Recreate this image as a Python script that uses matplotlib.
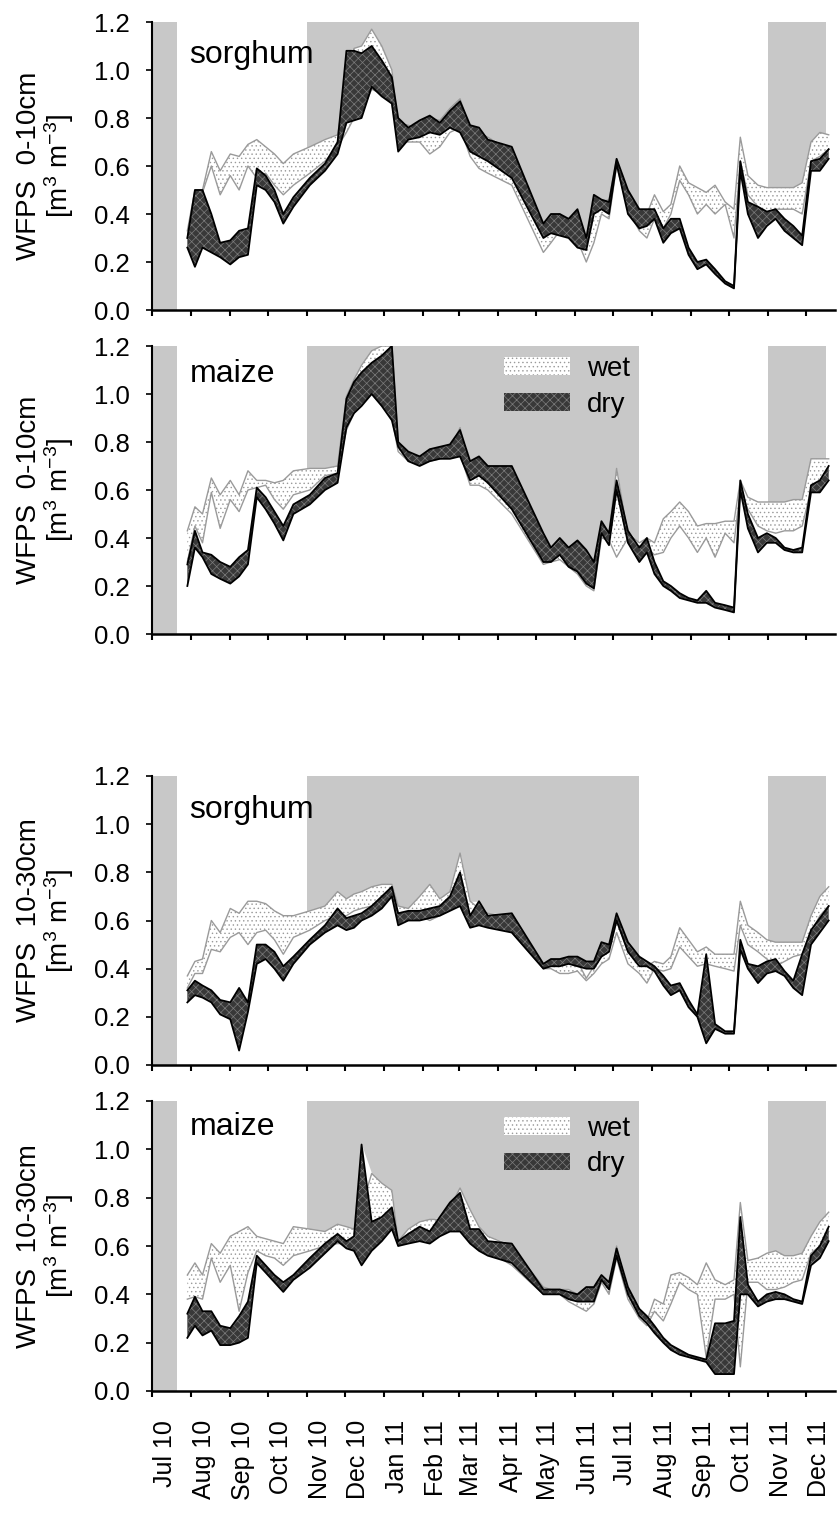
import matplotlib
matplotlib.use('Agg')
import matplotlib.pyplot as plt
import matplotlib.dates as mdates
from matplotlib.patches import Patch
import numpy as np
import pandas as pd

plt.rcParams['font.family'] = ['Liberation Sans', 'DejaVu Sans']
plt.rcParams['mathtext.fontset'] = 'custom'
plt.rcParams['mathtext.rm'] = 'Liberation Sans'
plt.rcParams['mathtext.it'] = 'Liberation Sans:italic'
plt.rcParams['hatch.linewidth'] = 0.5

# =============================================================================
# Data: WFPS [m3 m-3], range of the wet and dry treatments
# =============================================================================

dates = pd.to_datetime([
    '2010-07-29', '2010-08-04', '2010-08-10', '2010-08-17', '2010-08-24',
    '2010-09-01', '2010-09-08', '2010-09-15', '2010-09-22', '2010-09-29',
    '2010-10-06', '2010-10-13', '2010-10-21', '2010-11-03', '2010-11-15',
    '2010-11-25', '2010-12-02', '2010-12-08', '2010-12-14', '2010-12-22',
    '2010-12-30', '2011-01-07', '2011-01-12', '2011-01-20', '2011-01-29',
    '2011-02-06', '2011-02-14', '2011-02-22', '2011-03-02', '2011-03-10',
    '2011-03-17', '2011-03-24', '2011-04-12', '2011-05-07', '2011-05-13',
    '2011-05-20', '2011-05-27', '2011-06-03', '2011-06-10', '2011-06-16',
    '2011-06-22', '2011-06-28', '2011-07-04', '2011-07-13', '2011-07-22',
    '2011-07-28', '2011-08-03', '2011-08-10', '2011-08-16', '2011-08-23',
    '2011-08-30', '2011-09-06', '2011-09-13', '2011-09-20', '2011-09-28',
    '2011-10-05', '2011-10-10', '2011-10-16', '2011-10-24', '2011-10-31',
    '2011-11-07', '2011-11-14', '2011-11-21', '2011-11-28', '2011-12-05',
    '2011-12-12', '2011-12-19'])

# sorghum 0-10 cm
sorg_010_wet_hi = [0.33, 0.50, 0.50, 0.66, 0.58, 0.65, 0.64, 0.69, 0.71, 0.68,
                   0.65, 0.61, 0.65, 0.68, 0.71, 0.73, 0.95, 1.09, 1.10, 1.17,
                   1.10, 1.00, 0.78, 0.77, 0.74, 0.80, 0.79, 0.84, 0.88, 0.76,
                   0.74, 0.72, 0.66, 0.34, 0.38, 0.40, 0.36, 0.35, 0.27, 0.46,
                   0.45, 0.46, 0.63, 0.48, 0.41, 0.40, 0.48, 0.41, 0.44, 0.60,
                   0.53, 0.51, 0.49, 0.52, 0.45, 0.42, 0.72, 0.56, 0.52, 0.51,
                   0.51, 0.51, 0.51, 0.53, 0.70, 0.74, 0.73]
sorg_010_wet_lo = [0.30, 0.48, 0.49, 0.60, 0.48, 0.56, 0.50, 0.60, 0.55, 0.57,
                   0.52, 0.48, 0.52, 0.57, 0.62, 0.68, 0.74, 0.80, 0.82, 0.92,
                   0.90, 0.86, 0.70, 0.70, 0.70, 0.65, 0.68, 0.74, 0.76, 0.64,
                   0.59, 0.57, 0.52, 0.24, 0.28, 0.33, 0.31, 0.29, 0.20, 0.28,
                   0.40, 0.38, 0.60, 0.42, 0.33, 0.30, 0.38, 0.34, 0.40, 0.54,
                   0.48, 0.40, 0.44, 0.40, 0.44, 0.30, 0.62, 0.48, 0.43, 0.40,
                   0.42, 0.42, 0.42, 0.40, 0.62, 0.64, 0.67]
sorg_010_dry_hi = [0.30, 0.50, 0.50, 0.40, 0.28, 0.29, 0.33, 0.34, 0.59, 0.56,
                   0.50, 0.40, 0.47, 0.55, 0.61, 0.70, 1.08, 1.08, 1.07, 1.10,
                   1.04, 0.97, 0.80, 0.76, 0.79, 0.81, 0.78, 0.83, 0.87, 0.77,
                   0.76, 0.71, 0.68, 0.36, 0.40, 0.40, 0.38, 0.42, 0.30, 0.48,
                   0.46, 0.45, 0.63, 0.50, 0.42, 0.42, 0.42, 0.34, 0.38, 0.38,
                   0.26, 0.20, 0.21, 0.17, 0.12, 0.10, 0.62, 0.45, 0.43, 0.41,
                   0.42, 0.38, 0.35, 0.31, 0.62, 0.63, 0.67]
sorg_010_dry_lo = [0.26, 0.18, 0.26, 0.24, 0.22, 0.19, 0.22, 0.23, 0.52, 0.50,
                   0.45, 0.36, 0.43, 0.52, 0.58, 0.65, 0.78, 0.79, 0.80, 0.93,
                   0.89, 0.86, 0.66, 0.71, 0.72, 0.74, 0.73, 0.76, 0.74, 0.66,
                   0.64, 0.62, 0.55, 0.30, 0.32, 0.31, 0.30, 0.26, 0.25, 0.40,
                   0.42, 0.40, 0.61, 0.40, 0.34, 0.35, 0.38, 0.28, 0.32, 0.34,
                   0.23, 0.17, 0.19, 0.15, 0.11, 0.09, 0.58, 0.40, 0.30, 0.35,
                   0.38, 0.33, 0.30, 0.27, 0.58, 0.58, 0.63]

# maize 0-10 cm
maize_010_wet_hi = [0.43, 0.53, 0.50, 0.65, 0.58, 0.64, 0.58, 0.68, 0.64, 0.64,
                    0.63, 0.64, 0.68, 0.69, 0.69, 0.70, 0.99, 1.06, 1.12, 1.18,
                    1.20, 1.20, 0.80, 0.75, 0.73, 0.75, 0.76, 0.77, 0.86, 0.70,
                    0.70, 0.68, 0.62, 0.36, 0.34, 0.36, 0.34, 0.35, 0.30, 0.28,
                    0.45, 0.42, 0.69, 0.42, 0.38, 0.40, 0.38, 0.48, 0.51, 0.55,
                    0.51, 0.45, 0.46, 0.46, 0.47, 0.47, 0.64, 0.57, 0.55, 0.55,
                    0.55, 0.55, 0.56, 0.56, 0.73, 0.73, 0.73]
maize_010_wet_lo = [0.30, 0.45, 0.38, 0.59, 0.44, 0.56, 0.51, 0.60, 0.61, 0.62,
                    0.56, 0.52, 0.58, 0.60, 0.66, 0.67, 0.85, 0.92, 0.96, 1.00,
                    0.95, 0.90, 0.76, 0.72, 0.71, 0.72, 0.73, 0.74, 0.75, 0.62,
                    0.62, 0.60, 0.50, 0.29, 0.30, 0.31, 0.28, 0.25, 0.20, 0.18,
                    0.40, 0.39, 0.32, 0.40, 0.30, 0.36, 0.33, 0.34, 0.40, 0.45,
                    0.40, 0.34, 0.40, 0.32, 0.42, 0.38, 0.60, 0.52, 0.45, 0.43,
                    0.42, 0.43, 0.43, 0.45, 0.60, 0.62, 0.68]
maize_010_dry_hi = [0.29, 0.43, 0.34, 0.33, 0.30, 0.28, 0.32, 0.35, 0.61, 0.57,
                    0.51, 0.45, 0.54, 0.58, 0.65, 0.67, 0.98, 1.05, 1.09, 1.13,
                    1.16, 1.20, 0.80, 0.76, 0.74, 0.77, 0.78, 0.79, 0.85, 0.72,
                    0.74, 0.70, 0.70, 0.42, 0.36, 0.40, 0.36, 0.39, 0.35, 0.30,
                    0.47, 0.42, 0.64, 0.43, 0.36, 0.40, 0.30, 0.22, 0.20, 0.17,
                    0.15, 0.14, 0.18, 0.13, 0.12, 0.11, 0.64, 0.50, 0.40, 0.42,
                    0.40, 0.36, 0.35, 0.36, 0.62, 0.64, 0.70]
maize_010_dry_lo = [0.20, 0.36, 0.32, 0.25, 0.23, 0.21, 0.24, 0.29, 0.57, 0.52,
                    0.46, 0.39, 0.50, 0.54, 0.60, 0.63, 0.86, 0.92, 0.95, 1.00,
                    0.95, 0.89, 0.78, 0.72, 0.70, 0.72, 0.73, 0.73, 0.74, 0.64,
                    0.66, 0.63, 0.52, 0.30, 0.30, 0.33, 0.28, 0.26, 0.21, 0.19,
                    0.42, 0.37, 0.60, 0.38, 0.30, 0.34, 0.25, 0.20, 0.18, 0.15,
                    0.14, 0.13, 0.13, 0.11, 0.10, 0.09, 0.60, 0.44, 0.34, 0.38,
                    0.38, 0.35, 0.34, 0.34, 0.59, 0.59, 0.64]

# sorghum 10-30 cm
sorg_1030_wet_hi = [0.37, 0.43, 0.44, 0.60, 0.55, 0.65, 0.63, 0.68, 0.68, 0.67,
                    0.64, 0.62, 0.62, 0.64, 0.66, 0.72, 0.69, 0.71, 0.72, 0.74,
                    0.75, 0.75, 0.66, 0.65, 0.70, 0.75, 0.69, 0.72, 0.88, 0.68,
                    0.65, 0.63, 0.61, 0.41, 0.43, 0.42, 0.42, 0.43, 0.36, 0.41,
                    0.45, 0.48, 0.60, 0.47, 0.43, 0.41, 0.43, 0.42, 0.45, 0.57,
                    0.52, 0.47, 0.49, 0.46, 0.46, 0.46, 0.68, 0.58, 0.55, 0.52,
                    0.51, 0.51, 0.51, 0.51, 0.62, 0.70, 0.74]
sorg_1030_wet_lo = [0.32, 0.38, 0.38, 0.48, 0.47, 0.53, 0.55, 0.50, 0.55, 0.56,
                    0.52, 0.46, 0.53, 0.56, 0.60, 0.62, 0.62, 0.64, 0.65, 0.66,
                    0.68, 0.72, 0.62, 0.60, 0.62, 0.60, 0.62, 0.66, 0.66, 0.60,
                    0.61, 0.60, 0.55, 0.40, 0.40, 0.38, 0.38, 0.39, 0.35, 0.38,
                    0.42, 0.44, 0.55, 0.42, 0.38, 0.34, 0.40, 0.39, 0.40, 0.49,
                    0.45, 0.41, 0.42, 0.41, 0.40, 0.39, 0.58, 0.50, 0.47, 0.44,
                    0.41, 0.43, 0.45, 0.46, 0.55, 0.62, 0.66]
sorg_1030_dry_hi = [0.31, 0.35, 0.33, 0.31, 0.27, 0.26, 0.32, 0.26, 0.50, 0.50,
                    0.47, 0.41, 0.45, 0.52, 0.58, 0.65, 0.61, 0.62, 0.63, 0.66,
                    0.70, 0.74, 0.63, 0.64, 0.64, 0.65, 0.66, 0.70, 0.80, 0.62,
                    0.68, 0.62, 0.63, 0.42, 0.44, 0.44, 0.45, 0.45, 0.43, 0.43,
                    0.51, 0.50, 0.63, 0.51, 0.45, 0.43, 0.41, 0.37, 0.33, 0.34,
                    0.27, 0.21, 0.46, 0.17, 0.14, 0.14, 0.52, 0.42, 0.41, 0.43,
                    0.44, 0.39, 0.35, 0.46, 0.56, 0.61, 0.66]
sorg_1030_dry_lo = [0.26, 0.29, 0.28, 0.26, 0.21, 0.19, 0.06, 0.22, 0.42, 0.44,
                    0.40, 0.35, 0.42, 0.50, 0.55, 0.58, 0.56, 0.57, 0.60, 0.62,
                    0.65, 0.70, 0.58, 0.60, 0.60, 0.61, 0.62, 0.64, 0.66, 0.57,
                    0.58, 0.57, 0.55, 0.40, 0.41, 0.41, 0.42, 0.41, 0.40, 0.40,
                    0.45, 0.47, 0.60, 0.47, 0.41, 0.41, 0.39, 0.33, 0.29, 0.31,
                    0.24, 0.20, 0.09, 0.15, 0.13, 0.13, 0.48, 0.40, 0.34, 0.38,
                    0.39, 0.37, 0.32, 0.29, 0.50, 0.55, 0.60]

# maize 10-30 cm
maize_1030_wet_hi = [0.48, 0.53, 0.48, 0.61, 0.57, 0.64, 0.66, 0.68, 0.64, 0.63,
                     0.62, 0.61, 0.68, 0.67, 0.66, 0.69, 0.68, 0.67, 0.76, 0.90,
                     0.86, 0.83, 0.62, 0.67, 0.70, 0.71, 0.71, 0.76, 0.84, 0.75,
                     0.68, 0.64, 0.60, 0.43, 0.42, 0.42, 0.42, 0.40, 0.43, 0.42,
                     0.47, 0.43, 0.60, 0.41, 0.33, 0.29, 0.38, 0.36, 0.48, 0.49,
                     0.47, 0.44, 0.53, 0.46, 0.44, 0.46, 0.78, 0.54, 0.55, 0.57,
                     0.58, 0.56, 0.56, 0.57, 0.64, 0.70, 0.74]
maize_1030_wet_lo = [0.38, 0.39, 0.38, 0.55, 0.45, 0.52, 0.33, 0.49, 0.58, 0.56,
                     0.55, 0.52, 0.56, 0.58, 0.60, 0.61, 0.61, 0.60, 0.62, 0.62,
                     0.65, 0.70, 0.60, 0.62, 0.63, 0.63, 0.66, 0.68, 0.67, 0.63,
                     0.60, 0.58, 0.52, 0.40, 0.40, 0.40, 0.37, 0.35, 0.33, 0.36,
                     0.45, 0.40, 0.55, 0.38, 0.30, 0.27, 0.33, 0.29, 0.36, 0.45,
                     0.42, 0.40, 0.14, 0.38, 0.38, 0.40, 0.10, 0.45, 0.45, 0.42,
                     0.42, 0.43, 0.45, 0.46, 0.57, 0.60, 0.66]
maize_1030_dry_hi = [0.32, 0.39, 0.33, 0.33, 0.27, 0.26, 0.31, 0.37, 0.56, 0.52,
                     0.48, 0.45, 0.48, 0.55, 0.61, 0.65, 0.62, 0.64, 1.02, 0.70,
                     0.72, 0.76, 0.62, 0.65, 0.68, 0.66, 0.72, 0.78, 0.82, 0.67,
                     0.67, 0.62, 0.61, 0.42, 0.42, 0.42, 0.41, 0.40, 0.43, 0.43,
                     0.48, 0.45, 0.59, 0.43, 0.34, 0.31, 0.27, 0.22, 0.19, 0.17,
                     0.15, 0.14, 0.13, 0.28, 0.28, 0.29, 0.72, 0.44, 0.37, 0.40,
                     0.41, 0.40, 0.38, 0.37, 0.56, 0.60, 0.68]
maize_1030_dry_lo = [0.22, 0.27, 0.23, 0.25, 0.19, 0.19, 0.20, 0.22, 0.53, 0.49,
                     0.45, 0.41, 0.46, 0.51, 0.57, 0.62, 0.59, 0.58, 0.52, 0.58,
                     0.62, 0.67, 0.60, 0.61, 0.62, 0.61, 0.64, 0.66, 0.66, 0.61,
                     0.58, 0.56, 0.53, 0.40, 0.40, 0.40, 0.38, 0.37, 0.37, 0.37,
                     0.46, 0.42, 0.56, 0.40, 0.31, 0.28, 0.24, 0.20, 0.17, 0.15,
                     0.14, 0.13, 0.12, 0.07, 0.07, 0.07, 0.40, 0.40, 0.35, 0.37,
                     0.38, 0.38, 0.37, 0.36, 0.52, 0.55, 0.62]

# periods shaded grey
band_starts = ['2010-07-01', '2010-11-01', '2011-11-01']
band_ends = ['2010-07-21', '2011-07-22', '2011-12-17']

crops = ['sorghum', 'maize', 'sorghum', 'maize']
depths = ['0-10cm', '0-10cm', '10-30cm', '10-30cm']

# =============================================================================
# Plot
# =============================================================================

plt.close('all')

W, H = 838, 1515
fig = plt.figure(figsize=(W / 100, H / 100), dpi=100)

# top / bottom of each panel in pixels
panel_px = [(22, 310), (346, 634), (776, 1065), (1101, 1391)]
left_px, right_px = 152, 835

series = [
    (sorg_010_wet_hi, sorg_010_wet_lo, sorg_010_dry_hi, sorg_010_dry_lo),
    (maize_010_wet_hi, maize_010_wet_lo, maize_010_dry_hi, maize_010_dry_lo),
    (sorg_1030_wet_hi, sorg_1030_wet_lo, sorg_1030_dry_hi, sorg_1030_dry_lo),
    (maize_1030_wet_hi, maize_1030_wet_lo, maize_1030_dry_hi, maize_1030_dry_lo),
]
label_y = [0.857, 0.876, 0.856, 0.884]
legend_y = [None, 0.965, None, 0.950]

wet_face = dict(facecolor='white', hatch='....', edgecolor='#9a9a9a', linewidth=0)
dry_face = dict(facecolor='#383838', hatch='xxxx', edgecolor='#7c7c7c', linewidth=0)

for i, (top, bot) in enumerate(panel_px):
    ax = fig.add_axes([left_px / W, 1 - bot / H, (right_px - left_px) / W, (bot - top) / H])
    wet_hi, wet_lo, dry_hi, dry_lo = [np.array(s) for s in series[i]]

    for s, e in zip(band_starts, band_ends):
        ax.axvspan(pd.Timestamp(s), pd.Timestamp(e), color='#c8c8c8', lw=0, zorder=0)

    # blank out the shading below the curves
    env = np.max(np.vstack([wet_hi, wet_lo, dry_hi, dry_lo]), axis=0)
    ax.fill_between(dates, 0, env, color='white', lw=0, zorder=1)

    ax.fill_between(dates, wet_lo, wet_hi, zorder=2, **wet_face)
    ax.plot(dates, wet_hi, color='#9a9a9a', lw=1.0, zorder=3)
    ax.plot(dates, wet_lo, color='#9a9a9a', lw=1.0, zorder=3)
    ax.fill_between(dates, dry_lo, dry_hi, zorder=4, **dry_face)
    ax.plot(dates, dry_hi, color='black', lw=1.3, zorder=5)
    ax.plot(dates, dry_lo, color='black', lw=1.3, zorder=5)

    ax.set_xlim(pd.Timestamp('2010-07-01'), pd.Timestamp('2011-12-24'))
    ax.set_ylim(0, 1.2)
    ax.set_yticks(np.arange(0, 1.21, 0.2))
    ax.yaxis.set_major_formatter(matplotlib.ticker.FormatStrFormatter('%.1f'))

    ax.xaxis.set_major_locator(mdates.MonthLocator())
    ax.xaxis.set_minor_locator(mdates.MonthLocator(bymonthday=11))
    ax.xaxis.set_major_formatter(matplotlib.ticker.NullFormatter())
    ax.xaxis.set_minor_formatter(mdates.DateFormatter('%b %y'))
    ax.tick_params(axis='x', which='major', direction='out', length=4, width=1.5)
    ax.tick_params(axis='x', which='minor', length=0, pad=21, labelsize=18,
                   labelrotation=90, labelbottom=(i == 3))
    ax.tick_params(axis='y', direction='out', length=4, width=1.2, pad=12, labelsize=18.5)

    for side in ['top', 'right']:
        ax.spines[side].set_visible(False)
    ax.spines['left'].set_linewidth(1.5)
    ax.spines['bottom'].set_linewidth(1.8)
    ax.spines['left'].set_zorder(6)
    ax.spines['bottom'].set_zorder(6)

    ax.set_ylabel('WFPS  ' + depths[i] + '\n[m$^3$ m$^{-3}$]', fontsize=20,
                  linespacing=1.0)
    ax.yaxis.set_label_coords((76 - left_px) / (right_px - left_px), 0.5)

    ax.text(0.055, label_y[i], crops[i], transform=ax.transAxes,
            fontsize=23, va='baseline', zorder=7)

    if legend_y[i] is not None:
        handles = [Patch(label='wet', **wet_face), Patch(label='dry', **dry_face)]
        ax.legend(handles=handles, loc='upper left',
                  bbox_to_anchor=(0.515, legend_y[i]), frameon=False,
                  fontsize=20, handlelength=2.4, handleheight=0.6,
                  handletextpad=0.6, labelspacing=0.35, borderpad=0,
                  borderaxespad=0)

fig.savefig('out.png', dpi=100)
